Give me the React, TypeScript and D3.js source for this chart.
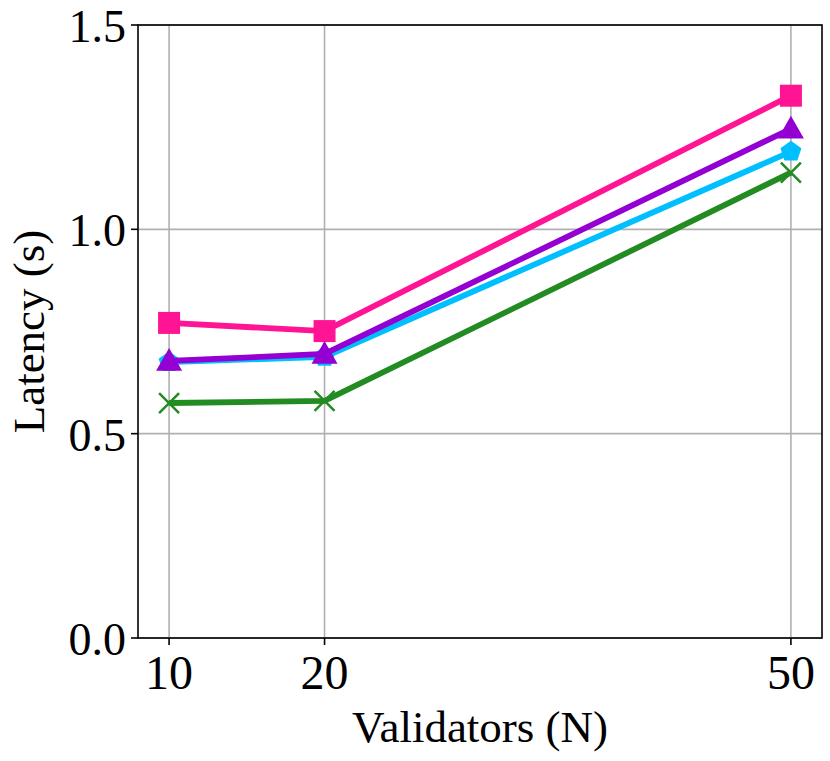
import React from 'react'
import * as d3 from 'd3'

const validators = [10, 20, 50]
const seriesPink = [0.771, 0.751, 1.327]
const seriesPurple = [0.678, 0.695, 1.246]
const seriesCyan = [0.675, 0.688, 1.19]
const seriesGreen = [0.575, 0.58, 1.139]
const yTicks = [0.0, 0.5, 1.0, 1.5]

const W = 830
const H = 761
const left = 138
const right = 822
const top = 25
const bottom = 638
const FONT = "'Liberation Serif', 'DejaVu Serif', serif"

const x = d3.scaleLinear().domain([8, 52]).range([left, right])
const y = d3.scaleLinear().domain([0, 1.5]).range([bottom, top])

const line = d3
  .line<number>()
  .x((d, i) => x(validators[i]))
  .y((d) => y(d))

const marker = (kind: string, cx: number, cy: number, color: string, key: string) => {
  if (kind === 'square') {
    return <rect key={key} x={cx - 11} y={cy - 11} width={22} height={22} fill={color} />
  }
  if (kind === 'triangle') {
    const r = 13
    const pts = [
      [cx, cy - r],
      [cx - r, cy + r * 0.75],
      [cx + r, cy + r * 0.75],
    ]
    return <polygon key={key} points={pts.map((p) => p.join(',')).join(' ')} fill={color} />
  }
  if (kind === 'pentagon') {
    const r = 11
    const pts = d3.range(5).map((i) => {
      const a = -Math.PI / 2 + (i * 2 * Math.PI) / 5
      return [cx + r * Math.cos(a), cy + r * Math.sin(a)]
    })
    return <polygon key={key} points={pts.map((p) => p.join(',')).join(' ')} fill={color} />
  }
  const s = 10
  return (
    <path
      key={key}
      d={`M${cx - s},${cy - s}L${cx + s},${cy + s}M${cx - s},${cy + s}L${cx + s},${cy - s}`}
      stroke={color}
      strokeWidth={2.5}
      fill="none"
    />
  )
}

const series = [
  { name: 'pink', values: seriesPink, color: '#ff1493', kind: 'square' },
  { name: 'cyan', values: seriesCyan, color: '#00bfff', kind: 'pentagon' },
  { name: 'purple', values: seriesPurple, color: '#9400d3', kind: 'triangle' },
  { name: 'green', values: seriesGreen, color: '#228b22', kind: 'x' },
]

const App = () => {
  return (
    <svg
      width={W}
      height={H}
      style={{ position: 'absolute', left: 0, top: 0, background: '#fff' }}
      fontFamily={FONT}
    >
      <rect x={0} y={0} width={W} height={H} fill="#fff" />
      {/* grid */}
      {validators.map((v) => (
        <line key={'gx' + v} x1={x(v)} x2={x(v)} y1={top} y2={bottom} stroke="#b0b0b0" strokeWidth={1.6} />
      ))}
      {yTicks.map((t) => (
        <line key={'gy' + t} x1={left} x2={right} y1={y(t)} y2={y(t)} stroke="#b0b0b0" strokeWidth={1.6} />
      ))}

      {/* series */}
      {series.map((s) => (
        <g key={s.name}>
          <path d={line(s.values) ?? ''} fill="none" stroke={s.color} strokeWidth={5.8} />
          {s.values.map((v, i) => marker(s.kind, x(validators[i]), y(v), s.color, s.name + i))}
        </g>
      ))}

      {/* frame */}
      <rect x={left} y={top} width={right - left} height={bottom - top} fill="none" stroke="#000" strokeWidth={1.6} />

      {/* x ticks */}
      {validators.map((v) => (
        <g key={'xt' + v}>
          <line x1={x(v)} x2={x(v)} y1={bottom} y2={bottom + 7} stroke="#000" strokeWidth={1.6} />
          <text x={x(v)} y={689} textAnchor="middle" fontSize={48}>
            {v}
          </text>
        </g>
      ))}
      {/* y ticks */}
      {yTicks.map((t) => (
        <g key={'yt' + t}>
          <line x1={left - 7} x2={left} y1={y(t)} y2={y(t)} stroke="#000" strokeWidth={1.6} />
          <text x={126} y={y(t) + 17} textAnchor="end" fontSize={46}>
            {t.toFixed(1)}
          </text>
        </g>
      ))}

      <text x={(left + right) / 2} y={742} textAnchor="middle" fontSize={45}>
        Validators (N)
      </text>
      <text transform={`translate(44,${(top + bottom) / 2}) rotate(-90)`} textAnchor="middle" fontSize={45}>
        Latency (s)
      </text>
    </svg>
  )
}

export default App
